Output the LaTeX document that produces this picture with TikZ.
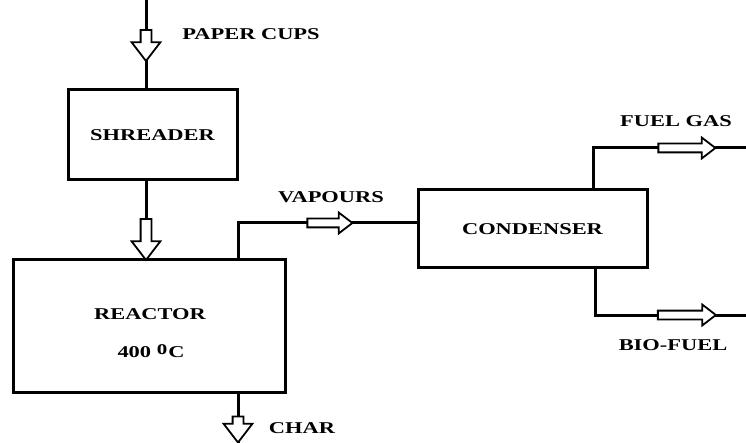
\documentclass[tikz,border=0pt]{standalone}
\usepackage{fontspec}
\newfontfamily\labelfont[FakeStretch=1.36]{Liberation Serif}
\newfontfamily\ringfont{Liberation Serif}
\usetikzlibrary{positioning,shapes.arrows}

\begin{document}
\begin{tikzpicture}[
  x=1pt, y=-1pt,
  every node/.style={font=\labelfont\fontsize{16.5}{18}\selectfont\bfseries},
  unit/.style={draw, line width=3pt, align=center, inner sep=0pt},
  flow/.style={line width=3pt},
  hollow/.style={single arrow, draw, fill=white, line width=1.8pt, inner sep=4.5pt, single arrow head extend=9pt, single arrow tip angle=75, single arrow head indent=0pt},
  thin hollow/.style={hollow, inner sep=3.5pt, single arrow head extend=6pt}
]
  \useasboundingbox (0,0) rectangle (746,443);

  % process units
  \node[unit, minimum width=169pt, minimum height=90pt] (shreader) at (152.5,135) {SHREADER};
  \node[unit, minimum width=272pt, minimum height=132pt] (reactor) at (149,326) {};
  \node (reactortext) at (150,314) {REACTOR};
  \node (temptext) at (151,351) {400 \raisebox{2.5pt}{\ringfont\bfseries\fontsize{21}{21}\selectfont o}\kern1pt C};
  \node[unit, minimum width=229pt, minimum height=78pt] (condenser) at (532.5,229) {CONDENSER};

  % free ends of the streams
  \coordinate (feed) at (146,0);
  \coordinate (charend) at (238,443);
  \coordinate (vapour) at (238,223);
  \coordinate (gasend) at (746,148);
  \coordinate (oilend) at (746,315);

  % streams
  \draw[flow] (feed) -- (feed |- shreader.north);
  \draw[flow] (feed |- shreader.south) -- (feed |- reactor.north);
  \draw[flow] (vapour |- reactor.north) -- (vapour) -- (condenser.west |- vapour);
  \draw[flow] (vapour |- reactor.south) -- (charend);
  \draw[flow] (condenser.north -| 593,0) |- (gasend);
  \draw[flow] (condenser.south -| 595,0) |- (oilend);

  % hollow flow arrows
  \node[hollow, rotate=-90, minimum height=31pt] (feedarrow) at (146,42) {};
  \node[hollow, rotate=-90, minimum height=41pt] (shredarrow) at (146,236) {};
  \node[thin hollow, minimum height=45pt] (vapourarrow) at (327,223) {};
  \node[thin hollow, minimum height=57pt] (gasarrow) at (684,148) {};
  \node[thin hollow, minimum height=58pt] (oilarrow) at (684,315) {};
  \node[hollow, rotate=-90, minimum height=26pt] (chararrow) at (238,426) {};

  % stream labels
  \node (papertext) at (251,34) {PAPER CUPS};
  \node (vapourtext) at (331,197) {VAPOURS};
  \node (gastext) at (676,121) {FUEL GAS};
  \node (oiltext) at (673,345) {BIO-FUEL};
  \node (chartext) at (302,428) {CHAR};
\end{tikzpicture}
\end{document}
